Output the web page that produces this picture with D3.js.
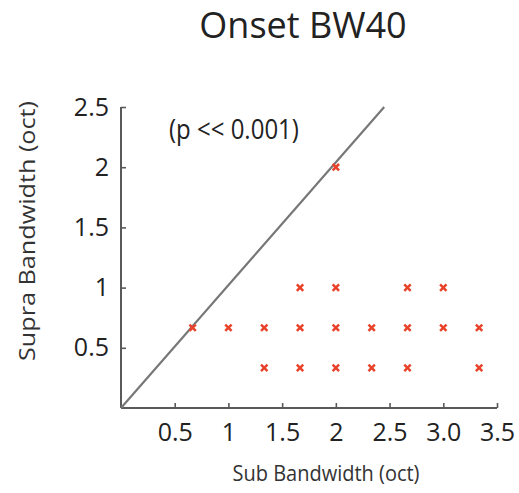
<!DOCTYPE html>
<html>
<head>
<meta charset="utf-8">
<script src="https://cdn.jsdelivr.net/npm/d3@7"></script>
<style>
  html, body { margin: 0; padding: 0; background: #fff; }
  svg { display: block; font-family: "Open Sans", sans-serif; }
</style>
</head>
<body>
<svg id="chart" width="519" height="493"></svg>
<script>
// Sub vs. supra bandwidth (octaves) for each unit
const subBW   = [2, 5/3, 2, 8/3, 3, 2/3, 1, 4/3, 5/3, 2, 7/3, 8/3, 3, 10/3, 4/3, 5/3, 2, 7/3, 8/3, 10/3];
const supraBW = [2, 1, 1, 1, 1, 2/3, 2/3, 2/3, 2/3, 2/3, 2/3, 2/3, 2/3, 2/3, 1/3, 1/3, 1/3, 1/3, 1/3, 1/3];

const xTicks = [0.5, 1, 1.5, 2, 2.5, 3, 3.5];
const xTickLabels = ["0.5", "1", "1.5", "2", "2.5", "3.0", "3.5"];
const yTicks = [0.5, 1, 1.5, 2, 2.5];
const yTickLabels = ["0.5", "1", "1.5", "2", "2.5"];
const unityEnd = 2.45;   // identity line drawn from 0 to here

const svg = d3.select("#chart");

const x = d3.scaleLinear().domain([0, 3.5]).range([121, 497]);
const y = d3.scaleLinear().domain([0, 2.5]).range([408, 107]);

const axisColor = "#5a5a5a";

// x axis
const xAxis = svg.append("g")
  .attr("transform", `translate(0,${y(0)})`)
  .call(d3.axisBottom(x).tickValues(xTicks).tickSizeInner(-5).tickSizeOuter(0)
    .tickFormat((d, i) => xTickLabels[i]).tickPadding(15));
xAxis.select(".domain").attr("stroke", axisColor).attr("stroke-width", 2)
  .attr("d", `M${x(0)},0H${x(3.5)}`);
xAxis.selectAll(".tick line").attr("stroke", axisColor).attr("stroke-width", 1.6);
xAxis.selectAll(".tick text").attr("font-size", 25).attr("fill", "#222")
  .attr("font-family", "Open Sans, sans-serif").attr("dy", "0.71em");

// y axis
const yAxis = svg.append("g")
  .attr("transform", `translate(${x(0)},0)`)
  .call(d3.axisLeft(y).tickValues(yTicks).tickSizeInner(-5).tickSizeOuter(0)
    .tickFormat((d, i) => yTickLabels[i]).tickPadding(12));
yAxis.select(".domain").attr("stroke", axisColor).attr("stroke-width", 2)
  .attr("d", `M0,${y(0)}V${y(2.5)}`);
yAxis.selectAll(".tick line").attr("stroke", axisColor).attr("stroke-width", 1.6);
yAxis.selectAll(".tick text").attr("font-size", 25).attr("fill", "#222")
  .attr("font-family", "Open Sans, sans-serif");

// identity line
svg.append("line")
  .attr("x1", x(0)).attr("y1", y(0))
  .attr("x2", x(unityEnd)).attr("y2", y(2.5))
  .attr("stroke", "#777").attr("stroke-width", 2.2);

// markers
const s = 3.2;
const marks = svg.append("g").attr("stroke", "#e8432a").attr("stroke-width", 2.5)
  .attr("stroke-linecap", "butt");
subBW.forEach((v, i) => {
  const cx = x(v), cy = y(supraBW[i]);
  marks.append("path").attr("d", `M${cx - s},${cy - s}L${cx + s},${cy + s}M${cx - s},${cy + s}L${cx + s},${cy - s}`);
});

// texts (slightly tall lettering)
svg.append("text").attr("x", 303).attr("y", 38)
  .attr("text-anchor", "middle")
  .attr("font-size", 36).attr("fill", "#222").text("Onset BW40");

svg.append("text").attr("transform", "translate(169,139) scale(1,1.1)")
  .attr("font-size", 24).attr("fill", "#222").text("(p << 0.001)");

svg.append("text").attr("transform", "translate(326,481) scale(1,1.12)")
  .attr("text-anchor", "middle")
  .attr("font-size", 20).attr("fill", "#333").text("Sub Bandwidth (oct)");

svg.append("text").attr("transform", "translate(35,231) scale(1,1.12) rotate(-90)")
  .attr("text-anchor", "middle")
  .attr("font-size", 22.5).attr("fill", "#333").text("Supra Bandwidth (oct)");
</script>
</body>
</html>
